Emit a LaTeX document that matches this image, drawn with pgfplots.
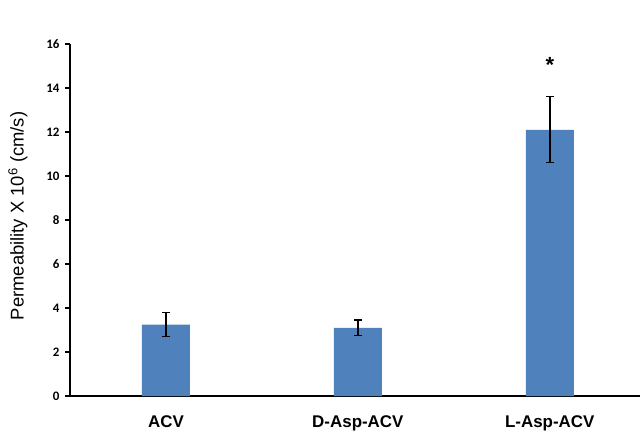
\documentclass[border=0pt]{standalone}
\usepackage{fontspec}
\setmainfont{Liberation Sans}
\newfontfamily\tickfont{Carlito}
\usepackage{pgfplots}
\pgfplotsset{compat=1.18}
\definecolor{barblue}{HTML}{4F81BD}
\begin{document}
\begin{tikzpicture}
\begin{axis}[
  at={(0,0)}, anchor=south west,
  scale only axis, width=570bp, height=352bp,
  xmin=-0.5, xmax=2.47, ymin=0, ymax=16,
  ybar, bar width=48bp,
  axis x line=bottom, axis y line=left,
  axis line style={-, line width=1.3pt, black},
  xtick=data, xticklabels={ACV,D-Asp-ACV,L-Asp-ACV},
  major x tick style={draw=none},
  ytick={0,2,...,16}, tick align=outside,
  major y tick style={line width=1.2pt, black},
  major tick length=5bp,
  /pgf/number format/assume math mode=true,
  yticklabel style={font=\tickfont\fontsize{13}{15}\selectfont\bfseries, xshift=-2bp},
  xticklabel style={font=\fontsize{17}{19}\selectfont\bfseries, anchor=north, yshift=-11bp},
  ylabel={Permeability X 10\textsuperscript{6} (cm/s)},
  every axis y label/.style={at={(rel axis cs:0,0.5)}, rotate=90, anchor=center, xshift=4bp, yshift=52bp,
    font=\fontsize{18.5}{20}\selectfont},
]
\addplot[fill=barblue, draw=none,
  error bars/.cd, y dir=both, y explicit,
  error bar style={black, line width=1.4pt},
  error mark options={black, line width=1.4pt, mark size=4bp, rotate=90}]
  coordinates {(0,3.25) +- (0,0.55) (1,3.1) +- (0,0.35) (2,12.1) +- (0,1.5)};
\node[font=\fontsize{22}{24}\selectfont\bfseries, yshift=-2bp] at (axis cs:2,15.15) {*};
\end{axis}
\pgfresetboundingbox
\path (-70bp,-36bp) rectangle (574bp,396bp);
\end{tikzpicture}
\end{document}
